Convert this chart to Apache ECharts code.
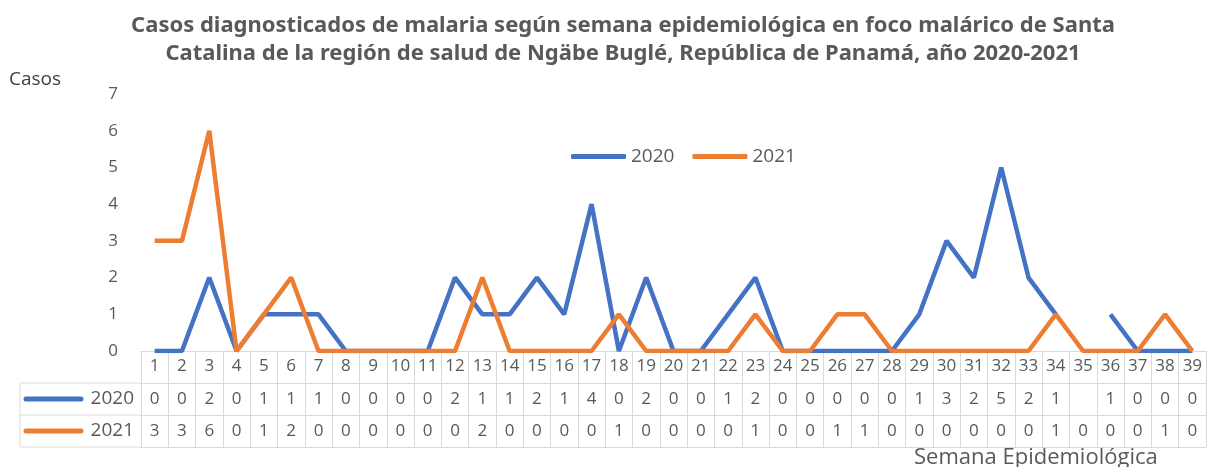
<!DOCTYPE html>
<html>
<head>
<meta charset="utf-8">
<script src="https://cdn.jsdelivr.net/npm/echarts@6/dist/echarts.min.js"></script>
<style>
  html, body { margin: 0; padding: 0; background: #fff; }
  #chart { width: 1213px; height: 467px; }
</style>
</head>
<body>
<div id="chart"></div>
<script>
// semanas epidemiológicas y casos por año (null = sin dato)
const semanas = ['1','2','3','4','5','6','7','8','9','10','11','12','13','14','15','16','17','18','19','20',
  '21','22','23','24','25','26','27','28','29','30','31','32','33','34','35','36','37','38','39']
const casos2020 = [0,0,2,0,1,1,1,0,0,0,0,2,1,1,2,1,4,0,2,0,0,1,2,0,0,0,0,0,1,3,2,5,2,1,null,1,0,0,0]
const casos2021 = [3,3,6,0,1,2,0,0,0,0,0,0,2,0,0,0,0,1,0,0,0,0,1,0,0,1,1,0,0,0,0,0,0,1,0,0,0,1,0]
const series = [
  { name: '2020', data: casos2020, color: '#4472C4' },
  { name: '2021', data: casos2021, color: '#ED7D31' }
]

const GRID = { left: 141, right: 7, top: 94, bottom: 116 }
const ROW = 32          // alto de fila de la tabla
const TABLE_X0 = 20     // borde izquierdo de la columna de etiquetas
const gray = '#595959'
const lineGray = '#d9d9d9'
const font = '"Open Sans", "Noto Sans", sans-serif'

const chart = echarts.init(document.getElementById('chart'))
const axisY = 467 - GRID.bottom

function rowAxis(offset, values) {
  return {
    type: 'category', data: semanas, position: 'bottom', offset: offset,
    axisLine: { show: true, lineStyle: { color: lineGray, width: 1 } },
    axisTick: { show: false },
    axisLabel: {
      show: !!values, interval: 0, margin: 8, color: gray, fontSize: 17, fontFamily: font,
      formatter: (v, i) => (values && values[i] != null ? String(values[i]) : '')
    }
  }
}

// columna izquierda de la tabla: bordes, muestras y nombres de serie
const tableGraphics = []
for (let r = 1; r <= 3; r++) {
  tableGraphics.push({
    type: 'line', silent: true,
    shape: { x1: TABLE_X0, y1: axisY + ROW * r, x2: GRID.left, y2: axisY + ROW * r },
    style: { stroke: lineGray, lineWidth: 1 }
  })
}
tableGraphics.push({
  type: 'line', silent: true,
  shape: { x1: TABLE_X0, y1: axisY + ROW, x2: TABLE_X0, y2: axisY + ROW * 3 },
  style: { stroke: lineGray, lineWidth: 1 }
})
series.forEach((s, k) => {
  const cy = axisY + ROW * (k + 1) + ROW / 2
  tableGraphics.push({
    type: 'line', silent: true,
    shape: { x1: 26, y1: cy, x2: 81, y2: cy },
    style: { stroke: s.color, lineWidth: 5, lineCap: 'round' }
  })
  tableGraphics.push({
    type: 'text', silent: true, x: 134, y: cy,
    style: { text: s.name, fill: gray, font: '19px ' + font, textAlign: 'right', textVerticalAlign: 'middle' }
  })
})

chart.setOption({
  animation: false,
  title: {
    text: 'Casos diagnosticados de malaria según semana epidemiológica en foco malárico de Santa\nCatalina de la región de salud de Ngäbe Buglé, República de Panamá, año 2020-2021',
    left: 618, top: 7, textAlign: 'center',
    textStyle: { color: gray, fontSize: 22, fontWeight: 'bold', fontFamily: '"Noto Sans", sans-serif', lineHeight: 28 }
  },
  legend: {
    left: 566, top: 142, icon: 'roundRect', itemWidth: 55, itemHeight: 5, itemGap: 18,
    textStyle: { color: gray, fontSize: 19, fontFamily: font },
    data: ['2020', '2021']
  },
  grid: { left: GRID.left, right: GRID.right, top: GRID.top, bottom: GRID.bottom, outerBoundsMode: 'none' },
  xAxis: [
    {
      type: 'category', data: semanas, position: 'bottom',
      axisLine: { show: true, lineStyle: { color: lineGray, width: 1 } },
      axisTick: { show: true, interval: 0, length: ROW * 3, lineStyle: { color: lineGray, width: 1 } },
      axisLabel: { interval: 0, margin: 7, color: gray, fontSize: 17, fontFamily: font }
    },
    rowAxis(ROW, casos2020),
    rowAxis(ROW * 2, casos2021),
    rowAxis(ROW * 3, null)
  ],
  yAxis: {
    type: 'value', min: 0, max: 7, interval: 1,
    axisLine: { show: false }, axisTick: { show: false }, splitLine: { show: false },
    axisLabel: { color: gray, fontSize: 17, fontFamily: font, margin: 23 }
  },
  series: series.map(s => ({
    name: s.name, type: 'line', data: s.data, xAxisIndex: 0,
    symbol: 'none', connectNulls: false,
    lineStyle: { color: s.color, width: 4.5 }, itemStyle: { color: s.color }
  })),
  graphic: [
    {
      type: 'text', silent: true, left: 9, top: 70,
      style: { text: 'Casos', fill: '#404040', font: '19px ' + font }
    },
    {
      type: 'text', silent: true, left: 914, top: 447,
      style: { text: 'Semana Epidemiológica', fill: gray, font: '22px ' + font }
    }
  ].concat(tableGraphics)
})
</script>
</body>
</html>
